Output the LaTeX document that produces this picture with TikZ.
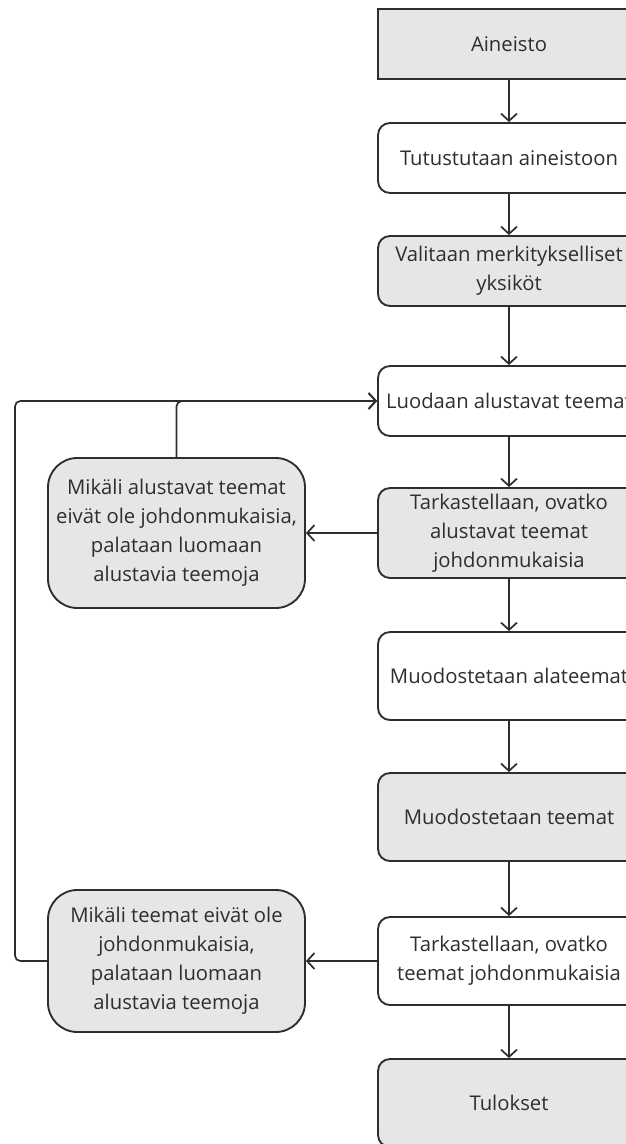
\documentclass[tikz,border=0pt]{standalone}
\usepackage{fontspec}
\setmainfont{Open Sans}
\usetikzlibrary{arrows.meta}
\definecolor{boxgray}{HTML}{E6E6E6}
\definecolor{linegray}{HTML}{2E2E2E}

\begin{document}
\begin{tikzpicture}[
    x=0.75pt, y=-0.75pt,
    every node/.style={draw=linegray, line width=1.4pt, text=linegray, align=center,
        font=\fontsize{15.2}{21.75}\selectfont, minimum width=196.5pt, inner sep=2pt},
    stepbox/.style={rounded corners=9pt},
    loopbox/.style={rounded corners=22pt, fill=boxgray, minimum width=192.75pt},
    grayfill/.style={fill=boxgray},
    flow/.style={draw=linegray, line width=1.3pt, -{Straight Barb[length=5.5pt,width=12pt]}},
    back/.style={flow, rounded corners=4pt}]

\useasboundingbox (0,0) rectangle (625,1144);

\node[grayfill, minimum height=52.5pt] (aineisto) at (509,44) {Aineisto};
\node[stepbox, minimum height=52.5pt] (tutustu) at (509,158) {Tutustutaan aineistoon};
\node[stepbox, grayfill, minimum height=52.5pt] (valitaan) at (509,271) {Valitaan merkitykselliset\\yksiköt};
\node[stepbox, minimum height=52.5pt] (luodaan) at (509,401) {Luodaan alustavat teemat};
\node[stepbox, grayfill, minimum height=67.5pt] (tark1) at (509,533) {Tarkastellaan, ovatko\\alustavat teemat\\johdonmukaisia};
\node[stepbox, minimum height=66pt] (alateemat) at (509,676) {Muodostetaan alateemat};
\node[stepbox, grayfill, minimum height=66pt] (teemat) at (509,817) {Muodostetaan teemat};
\node[stepbox, minimum height=66pt] (tark2) at (509,961) {Tarkastellaan, ovatko\\teemat johdonmukaisia};
\node[stepbox, grayfill, minimum height=66pt] (tulokset) at (509,1103) {Tulokset};

\node[loopbox, minimum height=112.5pt] (mikali1) at (176.5,533) {Mikäli alustavat teemat\\eivät ole johdonmukaisia,\\palataan luomaan\\alustavia teemoja};
\node[loopbox, minimum height=106.5pt] (mikali2) at (176.5,961) {Mikäli teemat eivät ole\\johdonmukaisia,\\palataan luomaan\\alustavia teemoja};
\coordinate (outer) at (15,961);

\draw[flow] (aineisto) -- (tutustu);
\draw[flow] (tutustu) -- (valitaan);
\draw[flow] (valitaan) -- (luodaan);
\draw[flow] (luodaan) -- (tark1);
\draw[flow] (tark1) -- (alateemat);
\draw[flow] (alateemat) -- (teemat);
\draw[flow] (teemat) -- (tark2);
\draw[flow] (tark2) -- (tulokset);
\draw[flow] (tark1) -- (mikali1);
\draw[flow] (tark2) -- (mikali2);
\draw[back] (mikali1.north) |- (luodaan.west);
\draw[back] (mikali2.west) -- (outer) |- (luodaan.west);

\end{tikzpicture}
\end{document}
